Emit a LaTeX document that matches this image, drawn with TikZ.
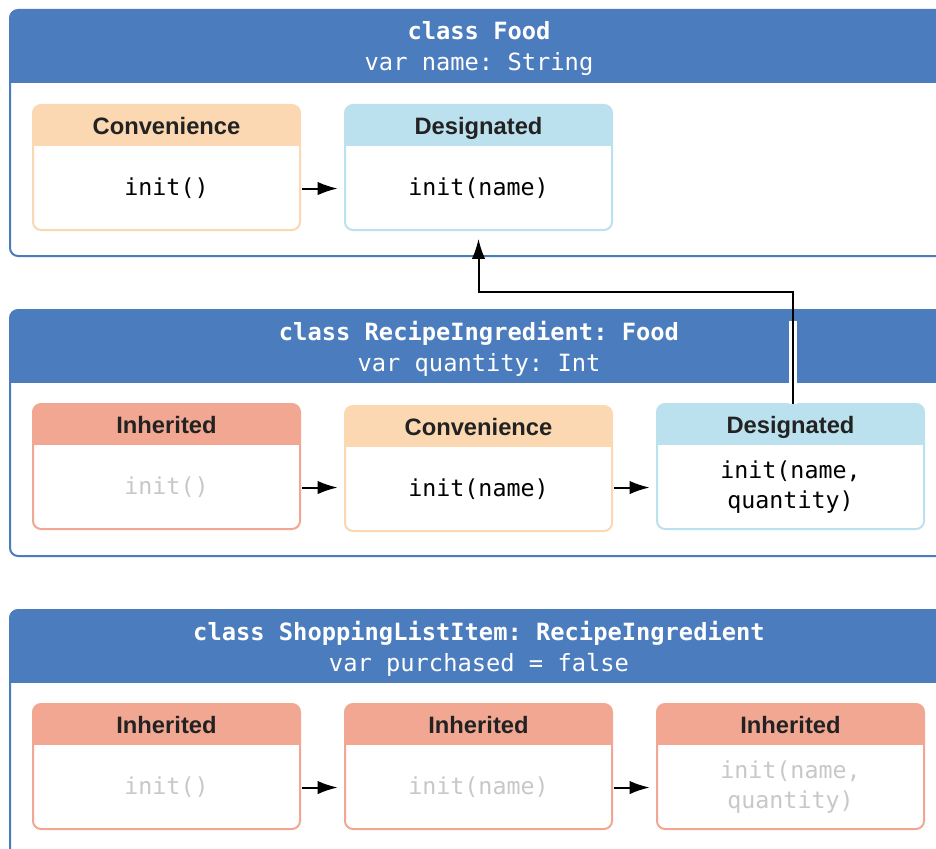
\documentclass[tikz,border=0pt]{standalone}
\usepackage{fontspec}
\setmainfont{Liberation Sans}
\setsansfont{Liberation Sans}
\setmonofont{DejaVu Sans Mono}
\usetikzlibrary{shapes,arrows,arrows.meta}
\usetikzlibrary{positioning}

\definecolor{classblue}{RGB}{75,124,190}
\definecolor{convfill}{RGB}{251,216,178}
\definecolor{desgfill}{RGB}{188,225,238}
\definecolor{inhtfill}{RGB}{242,167,146}
\definecolor{greytext}{RGB}{200,200,200}
\definecolor{titletext}{RGB}{34,34,34}

\tikzset{
    classhead/.style={inner sep=0pt, align=center, text=white,
        font=\ttfamily\fontsize{17.8}{23.25}\selectfont},
    inithead/.style={minimum width=200.25pt, minimum height=30.75pt, inner sep=0pt,
        text height=12.8pt, text depth=0pt,
        text=titletext, font=\sffamily\bfseries\fontsize{17.8}{21}\selectfont},
    initbody/.style={minimum width=200.25pt, minimum height=63pt, inner sep=0pt,
        align=center, font=\ttfamily\fontsize{17.5}{22.5}\selectfont},
    oldinit/.style={text=greytext},
    call/.style={-{Latex[length=15pt,width=10pt]}, line width=1.5pt},
}

% name, top, bottom, header text
\newcommand{\classbox}[4]{
    \begin{scope}
        \clip[rounded corners=6pt] (10,#2) rectangle (948,#3);
        \fill[classblue] (10,#2) rectangle (948,#2+73);
    \end{scope}
    \draw[classblue, line width=1.5pt, rounded corners=6pt] (10,#2) rectangle (948,#3);
    \node[classhead] (#1) at (479,#2+38.5) {#4};
}

% name, x, top, colour, body style, title, code
\newcommand{\initbox}[7]{
    \begin{scope}
        \clip[rounded corners=6pt] (#2-133.5,#3) rectangle (#2+133.5,#3+125);
        \fill[#4] (#2-133.5,#3) rectangle (#2+133.5,#3+41);
    \end{scope}
    \draw[#4, line width=1.5pt, rounded corners=6pt] (#2-133.5,#3) rectangle (#2+133.5,#3+125);
    \node[inithead] (#1h) at (#2,#3+20.5) {#6};
    \node[initbody, #5] (#1) [below=0pt of #1h] {#7};
}

\begin{document}
\begin{tikzpicture}[x=0.75pt, y=-0.75pt]
    \fill[white] (0,0) rectangle (936,849);
    \useasboundingbox (0,0) rectangle (936,849);

    \classbox{food}{10}{256}{\textbf{class Food}\\var name: String}
    \classbox{recipe}{310}{556}{\textbf{class RecipeIngredient: Food}\\var quantity: Int}
    \classbox{shopping}{610}{900}{\textbf{class ShoppingListItem: RecipeIngredient}\\var purchased = false}

    \initbox{foodConv}{166.5}{105}{convfill}{}{Convenience}{init()}
    \initbox{foodDesg}{478.5}{105}{desgfill}{}{Designated}{init(name)}

    \initbox{recipeInht}{166.5}{404}{inhtfill}{oldinit}{Inherited}{init()}
    \initbox{recipeConv}{478.5}{406}{convfill}{}{Convenience}{init(name)}
    \initbox{recipeDesg}{790.5}{404}{desgfill}{}{Designated}{init(name,\\quantity)}

    \initbox{shopInhtA}{166.5}{704}{inhtfill}{oldinit}{Inherited}{init()}
    \initbox{shopInhtB}{478.5}{704}{inhtfill}{oldinit}{Inherited}{init(name)}
    \initbox{shopInhtC}{790.5}{704}{inhtfill}{oldinit}{Inherited}{init(name,\\quantity)}

    \draw[call, shorten <=1.5pt, shorten >=5.25pt] (foodConv.east) -- (foodDesg.west);
    \draw[call, shorten <=1.5pt, shorten >=5.25pt] (recipeInht.east) -- (recipeInht.east -| recipeConv.west);
    \draw[call, shorten <=1.5pt, shorten >=5.25pt] (recipeConv.east |- recipeDesg) -- (recipeDesg.west);
    \draw[call, shorten <=1.5pt, shorten >=5.25pt] (shopInhtA.east) -- (shopInhtB.west);
    \draw[call, shorten <=1.5pt, shorten >=5.25pt] (shopInhtB.east) -- (shopInhtC.west);

    % super.init up to Food
    \coordinate (turn) at (478.5,292);
    \draw[white, line width=6pt] ([xshift=2pt]recipeDesgh.north) -- ([xshift=2pt]recipeDesgh.north |- recipe.north);
    \draw[call, shorten >=6pt] ([xshift=2pt]recipeDesgh.north) |- (turn) -| (foodDesg.south);
\end{tikzpicture}
\end{document}
